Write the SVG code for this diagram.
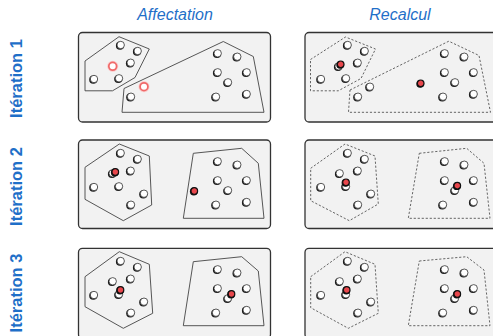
<svg xmlns="http://www.w3.org/2000/svg" xmlns:xlink="http://www.w3.org/1999/xlink" width="493" height="336" viewBox="0 0 493 336">
<style>
.title{font-family:"Liberation Sans",Arial,sans-serif;font-style:italic;font-size:16px;fill:#1f6fc8;text-anchor:middle}
.side{font-family:"Liberation Sans",Arial,sans-serif;font-weight:bold;font-size:16.5px;fill:#1f6fc8;text-anchor:middle}
.box{fill:#f2f2f2;stroke:#333;stroke-width:1.3}
.hull{fill:none;stroke:#444;stroke-width:0.9}
.dhull{fill:none;stroke:#555;stroke-width:0.9;stroke-dasharray:2.2 1.8}
</style>
<defs>
<radialGradient id="gw" cx="0.45" cy="0.4" r="0.65"><stop offset="0" stop-color="#ffffff"/><stop offset="0.7" stop-color="#ffffff"/><stop offset="1" stop-color="#eeeeee"/></radialGradient>
<g id="pt"><circle cx="-0.7" cy="0.7" r="4.1" fill="#1a1a1a"/><circle r="3.7" fill="url(#gw)" stroke="#333" stroke-width="0.8"/></g>
<g id="rh"><circle r="5" fill="none" stroke="#fbd0d0" stroke-width="1.2"/><circle r="3.9" fill="#fff" stroke="#f06a6a" stroke-width="1.8"/></g>
<g id="rc"><circle cx="-0.5" cy="0.5" r="3.9" fill="#111"/><circle r="3.3" fill="#e8474c" stroke="#111" stroke-width="1.2"/></g>
<g id="pts">
<use xlink:href="#pt" x="120.7" y="45"/><use xlink:href="#pt" x="137.7" y="51"/><use xlink:href="#pt" x="130.7" y="62.7"/>
<use xlink:href="#pt" x="94" y="79"/><use xlink:href="#pt" x="119" y="78.3"/><use xlink:href="#pt" x="131" y="96.7"/>
<use xlink:href="#pt" x="217.7" y="53.3"/><use xlink:href="#pt" x="237.3" y="56.7"/><use xlink:href="#pt" x="217.7" y="72.3"/>
<use xlink:href="#pt" x="246.7" y="72.3"/><use xlink:href="#pt" x="228" y="82.3"/><use xlink:href="#pt" x="216" y="96.7"/>
<use xlink:href="#pt" x="246.7" y="94"/>
</g>
<g id="pts2"><use xlink:href="#pt" x="112.7" y="66.3"/><use xlink:href="#pt" x="144" y="86.7"/></g>
</defs>

<text class="title" x="175" y="20">Affectation</text>
<text class="title" x="400" y="20">Recalcul</text>
<text class="side" transform="translate(21.5,78.5) rotate(-90)">Itération 1</text>
<text class="side" transform="translate(21.5,186.5) rotate(-90)">Itération 2</text>
<text class="side" transform="translate(21.5,293) rotate(-90)">Itération 3</text>

<g id="aff-1">
<rect class="box" x="78.5" y="32.5" width="192" height="89.5" rx="4"/>
<polygon class="hull" points="85,61 119,36.7 149.3,49 135,77.5 112.5,90.8 85,90.8"/>
<polygon class="hull" points="124,88.5 223.3,41.5 253.3,56.5 264,112.3 122,112.3"/>
<use xlink:href="#pts"/>
<use xlink:href="#rh" x="112.7" y="66.3"/><use xlink:href="#rh" x="144" y="86.7"/>
</g>

<g id="rec-1">
<rect class="box" x="305" y="32.5" width="192" height="89.5" rx="4"/>
<polygon class="dhull" points="310.5,59.5 345.5,37 375.5,49 361,78.5 338.3,90.8 310.5,90.8"/>
<polygon class="dhull" points="350,90 448.8,41.2 479,55.5 490.5,112.3 348.5,112.3"/>
<use xlink:href="#pts" x="227"/><use xlink:href="#pts2" x="226"/>
<use xlink:href="#rc" x="340.7" y="64.3"/><use xlink:href="#rc" x="420.7" y="83.3"/>
</g>

<g id="aff-2">
<rect class="box" x="78.5" y="140" width="192" height="88.5" rx="4"/>
<polygon class="hull" points="85,167.3 119.3,144 149.3,156 151.7,205 123.3,220.7 85,199.3"/>
<polygon class="hull" points="193.3,153.3 241.7,148.3 258.3,163.3 264,218.3 183.3,218.3"/>
<use xlink:href="#pts" y="108"/><use xlink:href="#pts2" y="107"/>
<use xlink:href="#rc" x="115.3" y="172"/><use xlink:href="#rc" x="194.3" y="191"/>
</g>

<g id="rec-2">
<rect class="box" x="305" y="140" width="192" height="88.5" rx="4"/>
<polygon class="dhull" points="310.7,168.3 345,144 375,156 378.3,204 349.3,220.7 310.7,200.7"/>
<polygon class="dhull" points="419.3,153.3 466.7,148.3 484,163.3 490,218.3 408.3,218.3"/>
<use xlink:href="#pts" x="227" y="108"/><use xlink:href="#pts2" x="227" y="107"/>
<use xlink:href="#rc" x="346" y="182.3"/><use xlink:href="#rc" x="457.3" y="185.7"/>
</g>

<g id="aff-3">
<rect class="box" x="78.5" y="248.3" width="192" height="90" rx="4"/>
<polygon class="hull" points="85,276.7 119.3,251.7 149.3,264.3 152.7,313.3 123.3,328.3 85,306.7"/>
<polygon class="hull" points="193.3,261.7 241.7,256.7 258.3,271 264,325.7 183.3,325.7"/>
<use xlink:href="#pts" y="216"/><use xlink:href="#pts2" y="215"/>
<use xlink:href="#rc" x="120.5" y="290"/><use xlink:href="#rc" x="231.5" y="294"/>
</g>

<g id="rec-3">
<rect class="box" x="305" y="248.3" width="192" height="90" rx="4"/>
<polygon class="dhull" points="310.7,276.7 345,251.7 375,264.3 378.3,313.3 348.3,328.3 310.7,307.7"/>
<polygon class="dhull" points="419.3,261 466.7,256.7 484,270 490,325.7 408.3,325.7"/>
<use xlink:href="#pts" x="227" y="216"/><use xlink:href="#pts2" x="227" y="215"/>
<use xlink:href="#rc" x="346.7" y="290"/><use xlink:href="#rc" x="457.3" y="294"/>
</g>
</svg>
